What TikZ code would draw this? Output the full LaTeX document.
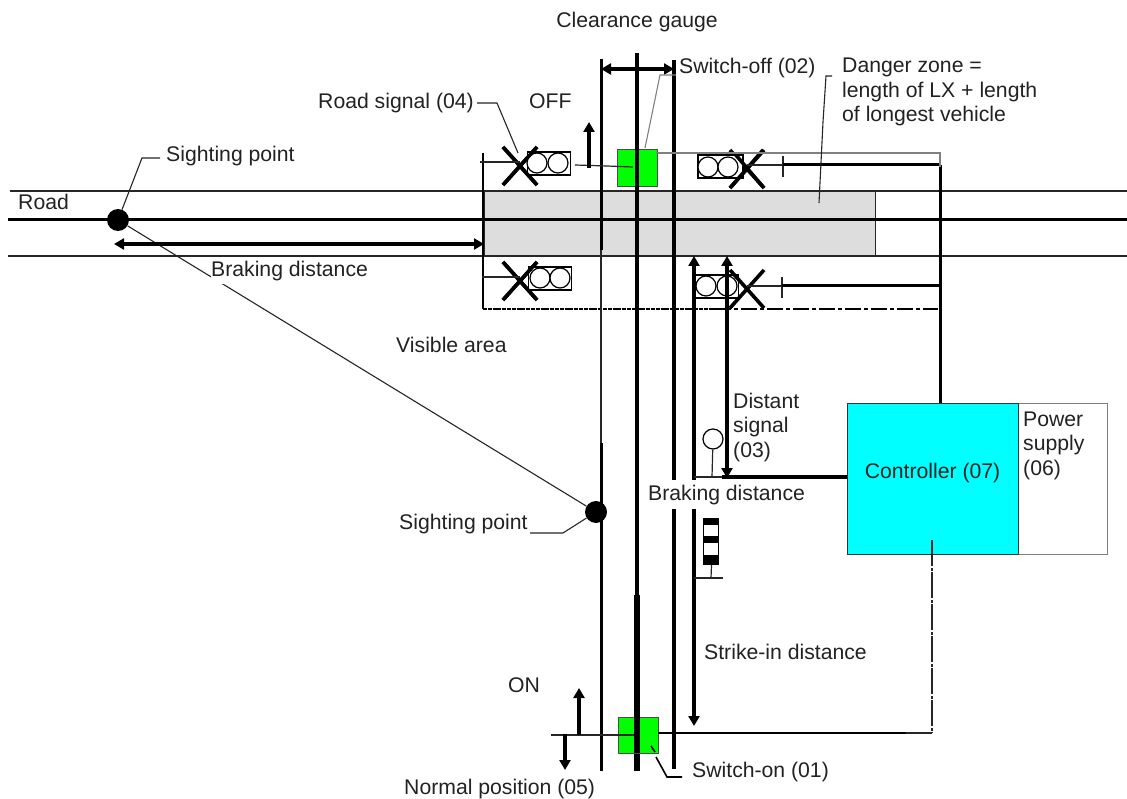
\documentclass[tikz,border=0pt]{standalone}
\usepackage{fontspec}
\setmainfont{Liberation Sans}
\usetikzlibrary{arrows.meta,calc}
\definecolor{txt}{HTML}{222222}
\definecolor{zone}{HTML}{DDDDDD}
\definecolor{grn}{HTML}{00FF00}
\definecolor{cyn}{HTML}{00FFFF}
\tikzset{
 x=1pt,y=-1pt,
 lab/.style={inner sep=0pt,anchor=base west,font=\fontsize{21.2}{24.5}\selectfont,text=txt,align=left},
 thin1/.style={line width=1.2pt,black!85},
 thick2/.style={line width=2.8pt,black},
 lead/.style={line width=1.1pt,black!85},
 darr/.style={line width=3.6pt,-{Triangle[width=11pt,length=10pt]}},
 ddarr/.style={line width=3.6pt,{Triangle[width=11pt,length=10pt]}-{Triangle[width=11pt,length=10pt]}},
 bigarr/.style={line width=4.4pt,{Triangle[width=11pt,length=10pt]}-{Triangle[width=11pt,length=10pt]}},
 lamp/.style={circle,draw,line width=1.2pt,fill=white,minimum size=20pt,inner sep=0pt},
 sigbox/.style={draw,line width=1.2pt,fill=white,minimum width=43pt,minimum height=23pt,inner sep=0pt},
 sdot/.style={circle,fill=black,minimum size=22pt,inner sep=0pt},
 det/.style={draw=black!70,line width=1pt,fill=grn,minimum width=40pt,minimum height=36pt,inner sep=0pt},
 xarm/.style={line width=3.6pt,black},
}
\newcommand{\crossmark}[3]{% center x,y name
 \coordinate (#3) at (#1,#2);
 \draw[xarm] ($(#3)+(-17,-19)$) -- ($(#3)+(17,19)$);
 \draw[xarm] ($(#3)+(17,-19)$) -- ($(#3)+(-17,19)$);
}
\begin{document}
\begin{tikzpicture}
\useasboundingbox (0,0) rectangle (1127,799);
\fill[white] (0,0) rectangle (1127,799);
% danger zone
\node[draw=black!85,line width=1pt,fill=zone,minimum width=391pt,minimum height=65pt,inner sep=0pt,anchor=north west] (zone) at (484,191) {};
% road
\coordinate (rtl) at (10,191); \coordinate (rtr) at (1127,191);
\coordinate (rbl) at (8,256); \coordinate (rbr) at (1127,256);
\coordinate (rcl) at (8,220); \coordinate (rcr) at (1127,220);
\draw[thin1] (rtl) -- (rtr);
\draw[thin1] (rbl) -- (rbr);
\draw[line width=3pt] (rcl) -- (rcr);
% left barrier line
\coordinate (bt) at (483,153); \coordinate (bb) at (483,309); \coordinate (bbm) at (715,309); \coordinate (bbr) at (938,309);
\draw[thick2] (bt) -- (bb);
\draw[line width=2.6pt,dash pattern=on 4pt off 0.8pt] (bb) -- (bbm);
\draw[line width=1.8pt,dash pattern=on 16pt off 3pt on 4pt off 3pt] (bbm) -- (bbr);
% track gauge verticals
\coordinate (g1a) at (601,59); \coordinate (g1b) at (601,250); \coordinate (g1c) at (601,443); \coordinate (g1d) at (601,771);
\draw[line width=3pt] (g1a) -- (g1b);
\draw[thin1] (g1b) -- (g1c);
\draw[line width=3pt] (g1c) -- (g1d);
\coordinate (g2a) at (674,60); \coordinate (g2b) at (674,769);
\draw[line width=3.2pt] (g2a) -- (g2b);
% dimension arrow
\coordinate (d1) at (601,69); \coordinate (d2) at (674,69);
\draw[ddarr] (d1) -- (d2);
% controller feed
\coordinate (t1) at (940,165); \coordinate (t2) at (940,403);
\draw[line width=3pt] (t1) -- (t2);
% top right signal
\crossmark{747}{169}{x2}
\node[sigbox,minimum width=45pt] (b2) at (720.5,166.5) {};
\node[lamp] at (708,167) {}; \node[lamp] at (728,167) {};
\draw[xarm] ($(x2)+(-17,19)$) -- ($(x2)+(16,-19)$);
\draw[xarm] ($(x2)+(-12,-15)$) -- ($(x2)+(17,19)$);
\coordinate (tk2) at (783,165);
\draw[thin1] (747,165) -- (tk2);
\draw[thin1] (783,156) -- (783,177);
\draw[line width=3pt] (tk2) -- (t1);
% top left signal
\crossmark{520}{166}{x1}
\node[sigbox] (b1) at (549,163.5) {};
\node[lamp] at (537,163) {}; \node[lamp] at (558,163) {};
\draw[xarm] ($(x1)+(-17,-19)$) -- ($(x1)+(17,19)$);
\draw[xarm] ($(x1)+(17,-19)$) -- ($(x1)+(-17,19)$);
\draw[thin1] (480,162) -- (520,162);
% lower left signal
\crossmark{520}{281}{x3}
\node[sigbox] (b3) at (550,278.5) {};
\node[lamp] at (540,278) {}; \node[lamp] at (560,278) {};
\draw[xarm] ($(x3)+(-17,-19)$) -- ($(x3)+(17,19)$);
\draw[xarm] ($(x3)+(17,-19)$) -- ($(x3)+(-17,19)$);
\draw[thin1] (482,277) -- (520,277);
% lower right signal
\node[sigbox] (b4) at (717,286.5) {};
\node[lamp] at (706,286) {}; \node[lamp] at (727,286) {};
\crossmark{747}{289}{x4}
\coordinate (tk4) at (782,286);
\draw[thin1] (747,286) -- (tk4);
\draw[thin1] (782,277) -- (782,298);
\draw[line width=3pt] (tk4) -- (940,286);
% switch-off detector
\node[det,anchor=north west,minimum height=37pt] (sw2) at (617,149) {};
\draw[thin1] (575,165) -- (607,166) -- (633,167);
% center rail
\coordinate (c1) at (637,53); \coordinate (c2) at (637,595); \coordinate (c3) at (637,771);
\draw[line width=4.8pt] (c1) -- (c2);
\draw[line width=6pt] (c2) -- (c3);
% grey links
\draw[line width=2.4pt,black!50] (656,153) -- (940,153) -- (940,167);
\draw[line width=1.1pt,black!50] (676,75) -- (660,75) -- (645,148);
% arrows near signals
\coordinate (a1a) at (589,168); \coordinate (a1b) at (589,122);
\draw[darr] (a1a) -- (a1b);
\coordinate (a2t) at (694,256); \coordinate (a2b) at (694,726);
\draw[bigarr] (a2b) -- (a2t);
\coordinate (a3t) at (727,256); \coordinate (a3b) at (727,478);
\draw[bigarr] (a3b) -- (a3t);
% distant signal
\coordinate (ds1) at (694,477);
\coordinate (ds2) at (847,477);
\draw[thin1] (ds1) -- (ds2);
\draw[line width=3.2pt] (722,477) -- (ds2);
\node[lamp] (dsig) at (713,439) {};
\draw[thin1] (dsig) -- (712,477);
% striped signal
\node[draw,line width=1pt,fill=white,minimum width=15pt,minimum height=46pt,inner sep=0pt,anchor=north west] (ss) at (703,518) {};
\fill (703,518) rectangle (718,525);
\fill (703,536) rectangle (718,543);
\fill (703,555) rectangle (718,564);
\draw[thin1] (ss.south) ++(0.5,0) -- (711,578);
\draw[thin1] (694,578) -- (723,578);
% controller + supply
\node[draw=black!50,line width=1.1pt,minimum width=89pt,minimum height=151pt,inner sep=0pt,anchor=north west] (ps) at (1018,403) {};
\node[draw=black!80,line width=1.1pt,fill=cyn,minimum width=171pt,minimum height=151pt,inner sep=0pt,anchor=north west] (ctl) at (847,403) {};
% switch-on
\node[det,anchor=north west] (sw1) at (618,717) {};
\coordinate (on0) at (551,735); \coordinate (on1) at (932,733);
\draw[thin1] (on0) -- (637,735);
\draw[line width=2.4pt] (658,733) -- (906,733);
\draw[thin1] (906,733) -- (on1);
\draw[line width=1.4pt,black!85,dash pattern=on 26pt off 1.5pt on 3pt off 1.5pt] (932,540) -- (on1);
\draw[line width=6pt] (637,717) -- (637,753);
\coordinate (on2) at (579,735); \coordinate (on3) at (579,688);
\draw[darr] (on2) -- (on3);
\coordinate (on4) at (565,734); \coordinate (on5) at (565,770);
\draw[darr] (on4) -- (on5);
\draw[line width=1.6pt] (682,777) -- (667,777) -- (656,757);
\draw[line width=1.6pt] (651,746) -- (655,752);
% sighting
\node[sdot] (s1) at (118,220) {};
\node[sdot] (s2) at (596,512) {};
\draw[lead] (s1) -- (s2);
\draw[ddarr] (114,244) -- (484,244);
% leaders
\draw[lead] (160,158) -- (142,158) -- (s1);
\draw[lead] (530,533) -- (563,533) -- (s2);
\draw[lead] (477,103) -- (497,103) -- (518,153);
\draw[lead] (832,76) -- (826,76) -- (823,122) -- (819,203);
% labels
\node[lab,anchor=base] (lcg) at (637,28) {Clearance gauge};
\node[lab] (lso) at (679,74) {Switch-off (02)};
\node[lab] (ldz) at (842,122) {Danger zone =\\length of LX + length\\of longest vehicle};
\node[lab] (lrs) at (318,109) {Road signal (04)};
\node[lab] (loff) at (529,109) {OFF};
\node[lab] (lsp1) at (166,162) {Sighting point};
\node[lab] (lroad) at (18,210) {Road};
\node[lab,fill=white,inner ysep=3pt,inner xsep=0pt] (lbd1) at (211,277) {Braking distance};
\node[lab] (lva) at (396,353) {Visible area};
\node[lab] (lds) at (733,457) {Distant\\signal\\(03)};
\node[lab,fill=white,inner ysep=5pt,inner xsep=1pt] (lbd2) at (647,500) {Braking distance};
\node[lab] (lsp2) at (399,529) {Sighting point};
\node[lab] (lsi) at (704,659) {Strike-in distance};
\node[lab] (lon) at (508,692) {ON};
\node[lab] (lsw1) at (692,777) {Switch-on (01)};
\node[lab] (lnp) at (404,794) {Normal position (05)};
\node[lab,anchor=base] (lct) at (932.5,478) {Controller (07)};
\node[lab] (lpw) at (1023,475) {Power\\supply\\(06)};
\end{tikzpicture}
\end{document}
